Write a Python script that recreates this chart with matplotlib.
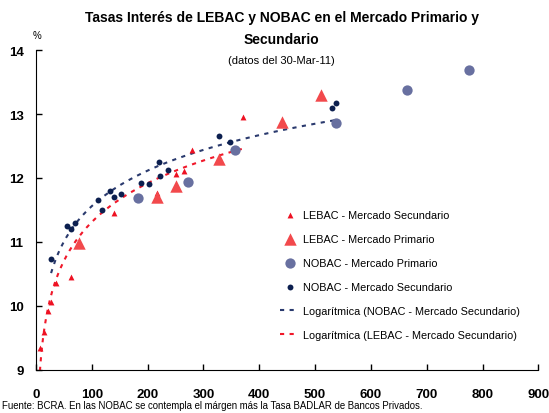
import matplotlib
matplotlib.use('Agg')
import matplotlib.pyplot as plt
import numpy as np

plt.rcParams['font.family'] = ['Liberation Sans', 'DejaVu Sans']

# Datos (plazo en dias, tasa en %)
lebac_sec_x = [7, 14, 21, 27, 35, 62, 140, 216, 251, 265, 279, 370]
lebac_sec_y = [9.35, 9.60, 9.92, 10.06, 10.36, 10.45, 11.45, 11.76, 12.07, 12.11, 12.44, 12.95]

lebac_pri_x = [77, 216, 251, 328, 440, 511]
lebac_pri_y = [10.98, 11.70, 11.87, 12.29, 12.88, 13.29]

nobac_pri_x = [182, 272, 356, 537, 664, 776]
nobac_pri_y = [11.69, 11.94, 12.44, 12.86, 13.38, 13.69]

nobac_sec_x = [27, 56, 62, 70, 111, 118, 132, 139, 153, 188, 202, 221, 223, 237, 327, 348, 530, 537]
nobac_sec_y = [10.73, 11.25, 11.21, 11.30, 11.65, 11.50, 11.80, 11.70, 11.75, 11.92, 11.91,
               12.25, 12.03, 12.13, 12.65, 12.57, 13.10, 13.17]

xticks = [0, 100, 200, 300, 400, 500, 600, 700, 800, 900]
yticks = [9, 10, 11, 12, 13, 14]


# ajuste logaritmico (linea de tendencia)
def log_fit(x, y):
    x = np.array(x, dtype=float)
    a, b = np.polyfit(np.log(x), np.array(y), 1)
    xs = np.linspace(x.min(), x.max(), 200)
    return xs, a * np.log(xs) + b


fig = plt.figure(figsize=(5.49, 4.14), dpi=100)
ax = fig.add_axes([0.0656, 0.1039, 0.915, 0.7729])

ax.scatter(lebac_sec_x, lebac_sec_y, marker='^', s=18, color='#ee1122', linewidths=0,
           label='LEBAC - Mercado Secundario', zorder=3)
ax.scatter(lebac_pri_x, lebac_pri_y, marker='^', s=80, color='#f2494c', linewidths=0,
           label='LEBAC - Mercado Primario', zorder=3)
ax.scatter(nobac_pri_x, nobac_pri_y, marker='o', s=55, color='#6870a0', linewidths=0,
           label='NOBAC - Mercado Primario', zorder=3)
ax.scatter(nobac_sec_x, nobac_sec_y, marker='o', s=18, color='#0c1f4f', linewidths=0,
           label='NOBAC - Mercado Secundario', zorder=3)

nx, ny = log_fit(nobac_sec_x, nobac_sec_y)
ax.plot(nx, ny, color='#2a3a6e', lw=1.5, linestyle=(0, (2.0, 2.6)),
        label='Logarítmica (NOBAC - Mercado Secundario)', zorder=2)
lx, ly = log_fit(lebac_sec_x, lebac_sec_y)
ax.plot(lx, ly, color='#f0182a', lw=1.5, linestyle=(0, (2.0, 2.6)),
        label='Logarítmica (LEBAC - Mercado Secundario)', zorder=2)

ax.set_xlim(0, 900)
ax.set_ylim(9, 14)
ax.set_xticks(xticks)
ax.set_yticks(yticks)
ax.tick_params(direction='in', length=4, width=1, labelsize=9.5)
ax.tick_params(axis='x', pad=13)
ax.tick_params(axis='y', pad=9)
for lab in ax.get_xticklabels() + ax.get_yticklabels():
    lab.set_fontweight('bold')
ax.spines['top'].set_visible(False)
ax.spines['right'].set_visible(False)

fig.text(0.067, 0.905, '%', fontsize=7, ha='center')
fig.text(0.513, 0.956, 'Tasas Interés de LEBAC y NOBAC en el Mercado Primario y',
         ha='center', va='center', fontsize=10, fontweight='bold')
fig.text(0.513, 0.903, 'Secundario',
         ha='center', va='center', fontsize=10, fontweight='bold')
fig.text(0.513, 0.852, '(datos del 30-Mar-11)', ha='center', va='center', fontsize=8)
fig.text(0.004, 0.008, 'Fuente: BCRA. En las NOBAC se contempla el márgen más la Tasa BADLAR de Bancos Privados.',
         fontsize=6.9, ha='left', va='bottom')

ax.legend(loc='upper left', bbox_to_anchor=(0.477, 0.515), frameon=False, fontsize=7.8,
          handlelength=1.8, handletextpad=0.3, labelspacing=1.3, borderaxespad=0)

fig.savefig('out.png', dpi=100)
